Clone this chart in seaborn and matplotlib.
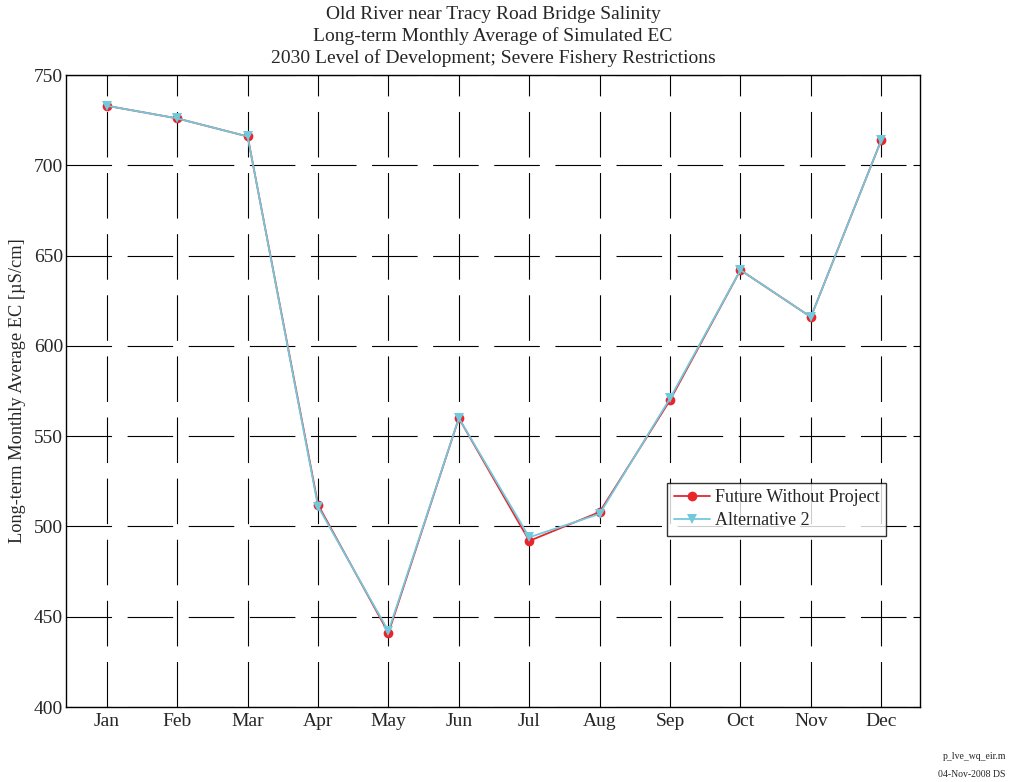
import matplotlib
matplotlib.use("Agg")
import matplotlib.pyplot as plt
import seaborn as sns
import pandas as pd

months = ["Jan", "Feb", "Mar", "Apr", "May", "Jun", "Jul", "Aug", "Sep", "Oct", "Nov", "Dec"]
fwp = [733, 726, 716, 512, 441, 560, 492, 508, 570, 642, 616, 714]
alt2 = [733, 726, 716, 511, 442, 560, 494, 507, 571, 642, 616, 714]

sns.set_style("white")
plt.rcParams["font.family"] = ["Liberation Serif", "DejaVu Serif"]

df = pd.DataFrame({
    "m": list(range(1, 13)) * 2,
    "ec": fwp + alt2,
    "series": ["Future Without Project"] * 12 + ["Alternative 2"] * 12,
})

fig = plt.figure(figsize=(10.11, 7.82), dpi=100)
ax = fig.add_axes([0.0653, 0.0959, 0.8447, 0.8081])

sns.lineplot(data=df, x="m", y="ec", hue="series", style="series",
             markers={"Future Without Project": "o", "Alternative 2": "v"},
             dashes=False,
             palette={"Future Without Project": "#e8242c", "Alternative 2": "#72c9dc"},
             markersize=7, markeredgewidth=0, linewidth=1.3, ax=ax)

ax.set_xlim(0.42, 12.55)
ax.set_ylim(400, 750)
ax.set_xticks(range(1, 13))
ax.set_xticklabels(months)
ax.set_yticks(range(400, 751, 50))
ax.tick_params(direction="in", length=5, labelsize=14, top=False, right=True, color="black")
ax.tick_params(axis="y", pad=2)
ax.tick_params(axis="x", pad=4)
ax.grid(True, color="black", linewidth=0.8, linestyle=(0, (41, 14)))
for s in ax.spines.values():
    s.set_color("black")
    s.set_linewidth(1.0)

ax.set_xlabel("")
ax.set_ylabel("Long-term Monthly Average EC [\u00b5S/cm]", fontsize=13.2, labelpad=6)
ax.set_title("Old River near Tracy Road Bridge Salinity\n"
             "Long-term Monthly Average of Simulated EC\n"
             "2030 Level of Development; Severe Fishery Restrictions",
             fontsize=14, linespacing=1.27, pad=9)

leg = ax.legend(loc="lower left", bbox_to_anchor=(0.704, 0.271), fontsize=13,
                frameon=True, fancybox=False, borderpad=0.35, labelspacing=0.35,
                handlelength=2.0, handletextpad=0.3, borderaxespad=0)
leg.get_frame().set_edgecolor("black")
leg.get_frame().set_linewidth(1.0)

fig.text(0.995, 0.032, "p_lve_wq_eir.m", ha="right", va="center", fontsize=7)
fig.text(0.995, 0.010, "04-Nov-2008 DS", ha="right", va="center", fontsize=7)

fig.savefig("out.png", dpi=100)
